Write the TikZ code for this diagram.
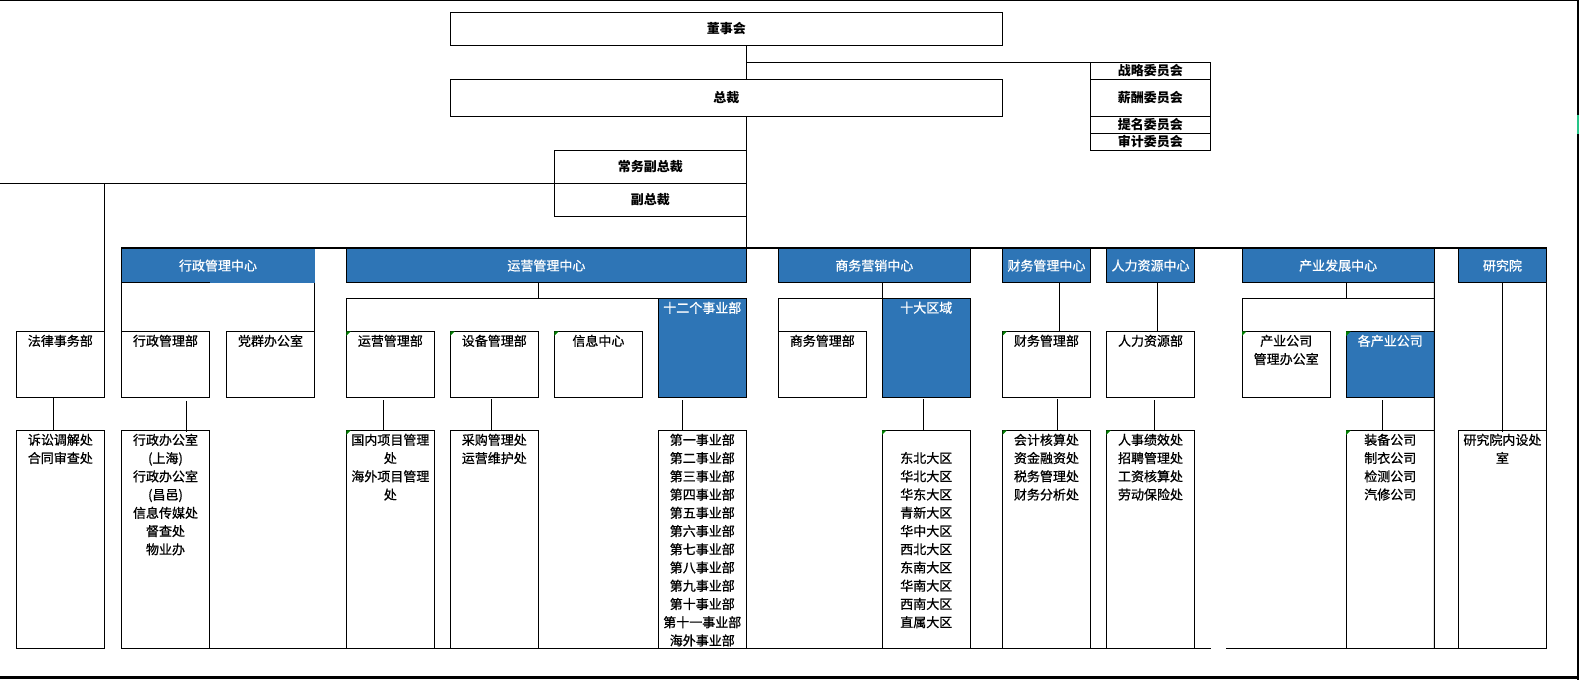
\documentclass[tikz,border=0pt]{standalone}
\usepackage{fontspec}
\setmainfont{Noto Sans CJK SC}
\newfontfamily\bodyf{Noto Sans CJK SC}[FakeBold=0.8]
\usetikzlibrary{calc}
\definecolor{hblue}{RGB}{46,117,182}
\definecolor{gmk}{RGB}{0,128,0}
\definecolor{tabg}{RGB}{38,196,135}
\newcommand\fs{\bodyf\fontsize{9.75}{13.68}\selectfont}
\newcommand\fsb{\fontsize{9.75}{13.68}\selectfont\bfseries}
\newcommand\obox[7]{\node[#6, minimum width={(#4-#2)*0.75pt}, minimum height={(#5-#3)*0.75pt}] (#1) at ({(#2+#4)/2},{(#3+#5)/2}) {#7};}
\newcommand\ttx[4][]{\node[txt,anchor=north,#1] (#2-t) at ($(#2.north)+(0,#3)$) {#4};}
\newcommand\gm[1]{\fill[gmk] (#1.north west) -- ++(4.5,0) -- ++(-4.5,4.5) -- cycle;}
\begin{document}
\begin{tikzpicture}[x=0.75pt,y=-0.75pt,
  ln/.style={draw=black,line width=0.75pt},
  wbox/.style={rectangle,draw=black,line width=0.75pt,fill=white,inner sep=0pt,outer sep=0pt},
  bbox/.style={wbox,fill=hblue},
  hdr/.style={bbox,text=white,font=\fs},
  cbox/.style={wbox,font=\fsb},
  txt/.style={inner sep=0pt,outer sep=0pt,align=center,font=\fs},
]
\useasboundingbox (0,0) rectangle (1579,680);

% ---------- top level ----------
\obox{dsh}{450.4}{12.3}{1002.5}{45.3}{cbox}{董事会}
\obox{zc}{450.4}{79.3}{1002.5}{116.3}{cbox}{总裁}
\obox{zl}{1090.5}{62.3}{1210.3}{79.3}{cbox}{战略委员会}
\obox{xc}{1090.5}{79.3}{1210.3}{116.3}{cbox}{薪酬委员会}
\obox{tm}{1090.5}{116.3}{1210.3}{133.3}{cbox}{提名委员会}
\obox{sj}{1090.5}{133.3}{1210.3}{150.3}{cbox}{审计委员会}
\obox{cw}{554.3}{150.3}{746.4}{183.3}{cbox}{常务副总裁}
\obox{fz}{554.3}{183.3}{746.4}{216.3}{cbox}{副总裁}

% ---------- centre headers ----------
\obox{h1}{121.4}{248.5}{314.6}{282.7}{hdr,draw=none}{行政管理中心}
\obox{h2}{346.4}{248.5}{746.4}{282.7}{hdr}{运营管理中心}
\obox{h3}{778.2}{248.5}{970.4}{282.7}{hdr}{商务营销中心}
\obox{h4}{1002.5}{248.5}{1090.4}{282.7}{hdr}{财务管理中心}
\obox{h5}{1106.3}{248.5}{1194.7}{282.7}{hdr}{人力资源中心}
\obox{h6}{1242}{248.5}{1434.3}{282.7}{hdr}{产业发展中心}
\obox{h7}{1458.3}{248.5}{1546.6}{282.7}{hdr}{研究院}

% ---------- departments ----------
\obox{fl}{16.4}{331.3}{104.3}{397.3}{wbox}{}\ttx{fl}{3.5}{法律事务部}
\obox{xzb}{121.4}{331.3}{209.6}{397.3}{wbox}{}\ttx{xzb}{3.5}{行政管理部}
\obox{dq}{226.4}{331.3}{314.6}{397.3}{wbox}{}\ttx{dq}{3.5}{党群办公室}
\obox{yyb}{346.4}{331.3}{434.3}{397.3}{wbox}{}\ttx{yyb}{3.5}{运营管理部}
\obox{sbb}{450.4}{331.3}{538.2}{397.3}{wbox}{}\ttx{sbb}{3.5}{设备管理部}
\obox{xx}{554.3}{331.3}{642.5}{397.3}{wbox}{}\ttx{xx}{3.5}{信息中心}
\obox{sez}{658.2}{298.3}{746.4}{397.3}{bbox}{}\ttx[text=white]{sez}{3.5}{十二个事业部}
\obox{swb}{778.2}{331.3}{866.4}{397.3}{wbox}{}\ttx{swb}{3.5}{商务管理部}
\obox{sdq}{882.1}{298.3}{970.4}{397.3}{bbox}{}\ttx[text=white]{sdq}{3.5}{十大区域}
\obox{cwb}{1002.5}{331.3}{1090.4}{397.3}{wbox}{}\ttx{cwb}{3.5}{财务管理部}
\obox{rlb}{1106.3}{331.3}{1194.7}{397.3}{wbox}{}\ttx{rlb}{3.5}{人力资源部}
\obox{cyb}{1242}{331.3}{1330.4}{397.3}{wbox}{}\ttx{cyb}{3.5}{产业公司\\管理办公室}
\obox{gcy}{1346.2}{331.3}{1434.3}{397.3}{bbox}{}\ttx[text=white]{gcy}{3.5}{各产业公司}

% ---------- sections ----------
\obox{ss}{16.4}{430.3}{104.3}{648.3}{wbox}{}\ttx{ss}{3.5}{诉讼调解处\\合同审查处}
\obox{xzbg}{121.4}{430.3}{209.6}{648.3}{wbox}{}\ttx{xzbg}{3.5}{行政办公室\\(上海)\\行政办公室\\(昌邑)\\信息传媒处\\督查处\\物业办}
\obox{gn}{346.4}{430.3}{434.3}{648.3}{wbox}{}\ttx{gn}{3.5}{国内项目管理\\处\\海外项目管理\\处}
\obox{cg}{450.4}{430.3}{538.2}{648.3}{wbox}{}\ttx{cg}{3.5}{采购管理处\\运营维护处}
\obox{sy}{658.2}{430.3}{746.4}{648.3}{wbox}{}\ttx{sy}{3.5}{第一事业部\\第二事业部\\第三事业部\\第四事业部\\第五事业部\\第六事业部\\第七事业部\\第八事业部\\第九事业部\\第十事业部\\第十一事业部\\海外事业部}
\obox{db}{882.1}{430.3}{970.4}{648.3}{wbox}{}\ttx{db}{21.7}{东北大区\\华北大区\\华东大区\\青新大区\\华中大区\\西北大区\\东南大区\\华南大区\\西南大区\\直属大区}
\obox{kj}{1002.5}{430.3}{1090.4}{648.3}{wbox}{}\ttx{kj}{3.5}{会计核算处\\资金融资处\\税务管理处\\财务分析处}
\obox{rs}{1106.3}{430.3}{1194.7}{648.3}{wbox}{}\ttx{rs}{3.5}{人事绩效处\\招聘管理处\\工资核算处\\劳动保险处}
\obox{zb}{1346.2}{430.3}{1434.3}{648.3}{wbox}{}\ttx{zb}{3.5}{装备公司\\制衣公司\\检测公司\\汽修公司}
\obox{yjy}{1458.3}{430.3}{1546.6}{648.3}{wbox}{}\ttx{yjy}{3.5}{研究院内设处\\室}

% comment markers
\foreach \n in {yyb,sbb,xx,cwb,cyb,gcy,gn,db,kj,rs,zb} {\gm{\n}}

% ---------- connectors ----------
\coordinate (trunk) at (746.4,248.5);
\coordinate (lft) at (0,183.3);
\draw[ln] (dsh.south -| trunk) -- (zc.north -| trunk);
\draw[ln] (zl.north west -| trunk) -- (zl.north west);
\draw[ln] (zc.south -| trunk) -- (trunk);
\draw[ln] (lft) -- (cw.south west);
\draw[ln] (lft -| fl.east) -- (fl.north east);
\draw[line width=1.5pt] (h1.north west) -- (h7.north east);
\draw[ln] (h1.north west) -- (h1.south west) -- (h1.south west -| xzb.east);
\draw[ln] (h1.south west) -- (xzb.north west);
\draw[ln] (h1.south east) -- (dq.north east);
% 运营
\draw[ln] (h2.south -| sbb.east) -- (sez.north -| sbb.east);
\draw[ln] (yyb.north west |- sez.north) -- (sez.north west);
\draw[ln] (yyb.north west |- sez.north) -- (yyb.north west);
% 商务
\draw[ln] (h3.south -| sdq.west) -- (sdq.north west);
\draw[ln] (swb.north west |- sdq.north) -- (sdq.north west);
\draw[ln] (swb.north west |- sdq.north) -- (swb.north west);
% 财务 / 人力
\coordinate (kx4) at (1059.4,0);
\coordinate (kx5) at (1157.3,0);
\draw[ln] (h4.south -| kx4) -- (cwb.north -| kx4);
\draw[ln] (h5.south -| kx5) -- (rlb.north -| kx5);
% 产业
\coordinate (cyt) at (1242,298.3);
\draw[ln] (h6.south -| gcy.west) -- (cyt -| gcy.west);
\draw[ln] (cyt) -- (cyt -| h6.east);
\draw[ln] (cyt) -- (cyb.north west);
\draw[ln] (h6.south east) -- (zb.south east);
% 研究院
\draw[ln] (h7.south) -- ($(yjy.north)+(0,1.7)$);
\draw[ln] (h7.south east) -- (yjy.south east);
% row 2 -> row 3
\coordinate (v1) at (53.2,0);
\coordinate (v2) at (186.4,0);
\coordinate (v3) at (383.2,0);
\coordinate (v4) at (491.4,0);
\coordinate (v5) at (682.5,0);
\coordinate (v6) at (923.2,0);
\coordinate (v7) at (1057,0);
\coordinate (v8) at (1154.3,0);
\coordinate (v9) at (1382.3,0);
\draw[ln] (fl.south -| v1) -- (ss.north -| v1);
\draw[ln] ($(xzb.south -| v2)+(0,3.5)$) -- ($(xzbg.north -| v2)+(0,2)$);
\draw[ln] ($(yyb.south -| v3)+(0,3)$) -- (gn.north -| v3);
\draw[ln] ($(sbb.south -| v4)+(0,2)$) -- (cg.north -| v4);
\draw[ln] ($(sez.south -| v5)+(0,3)$) -- (sy.north -| v5);
\draw[ln] ($(sdq.south -| v6)+(0,2)$) -- (db.north -| v6);
\draw[ln] ($(cwb.south -| v7)+(0,2)$) -- (kj.north -| v7);
\draw[ln] ($(rlb.south -| v8)+(0,3)$) -- (rs.north -| v8);
\draw[ln] ($(gcy.south -| v9)+(0,3)$) -- (zb.north -| v9);
% bottom base line
\coordinate (g1) at (1211,648.3);
\coordinate (g2) at (1226,648.3);
\draw[ln] (xzbg.south west) -- (g1);
\draw[ln] (g2) -- (yjy.south east);

% ---------- sheet border ----------
\draw[line width=0.9pt] (0,0.6) -- (1579,0.6);
\draw[line width=1.5pt] (1578,0) -- (1578,680);
\draw[line width=2pt] (0,677.7) -- (1579,677.7);
\fill[tabg] (1576.6,115) rectangle (1579,134);
\end{tikzpicture}
\end{document}
